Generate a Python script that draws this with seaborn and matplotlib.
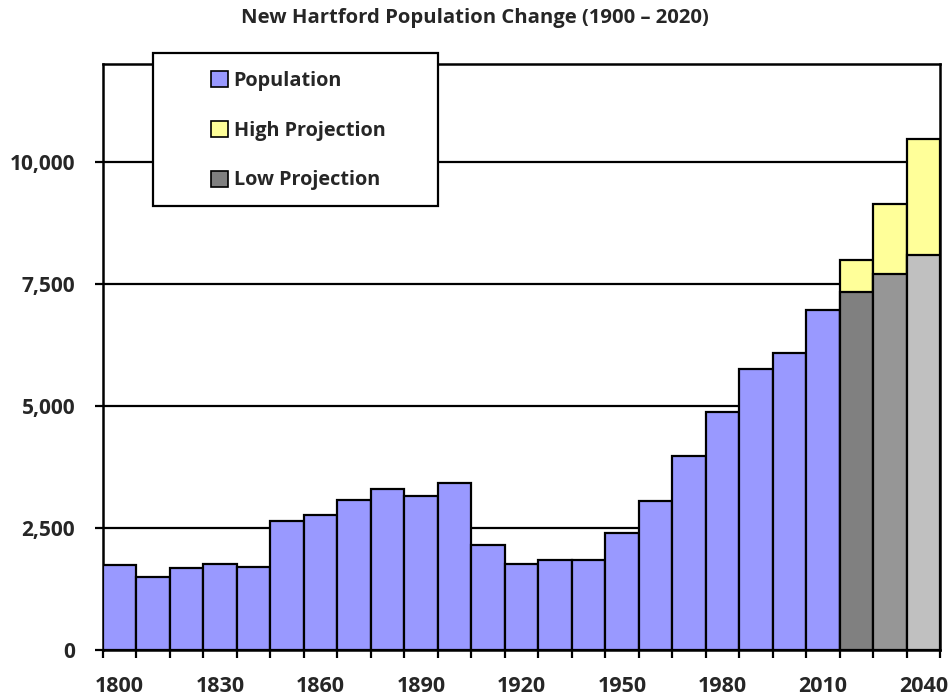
import matplotlib
matplotlib.use("Agg")
import matplotlib.pyplot as plt
import pandas as pd
import seaborn as sns
from matplotlib.patches import Patch, Rectangle
from matplotlib.ticker import FixedLocator, FuncFormatter

# ---- data ----
years = [str(y) for y in range(1800, 2050, 10)]
pop_years = years[:22]
population = [1745, 1500, 1685, 1760, 1705, 2640, 2755, 3080, 3295, 3155, 3420,
              2140, 1770, 1835, 1835, 2400, 3050, 3975, 4877, 5762, 6090, 6967]
proj_years = ["2020", "2030", "2040"]
high_projection = [7980, 9135, 10455]
low_projection = [7322, 7698, 8090]
tick_labels = ["1800", "1830", "1860", "1890", "1920", "1950", "1980", "2010", "2040"]
legend_labels = ["Population", "High Projection", "Low Projection"]

pop_color = "#9999FF"
high_color = "#FFFF99"
low_colors = ["#808080", "#969696", "#C0C0C0"]

sns.set_style("white")
plt.rcParams["font.family"] = ["Open Sans", "DejaVu Sans"]
plt.rcParams["font.weight"] = "bold"

df_pop = pd.DataFrame({"year": pop_years, "value": population})
df_proj = pd.DataFrame({"year": proj_years, "high": high_projection, "low": low_projection})

fig = plt.figure(figsize=(9.49, 7.0), dpi=100)
ax = fig.add_axes([103 / 949, 1 - 650 / 700, (940 - 103) / 949, (650 - 64) / 700])

lw = 1.6
sns.barplot(data=df_pop, x="year", y="value", order=years, color=pop_color,
            width=1.0, edgecolor="black", linewidth=lw, saturation=1, ax=ax, zorder=3)
sns.barplot(data=df_proj, x="year", y="high", order=years, color=high_color,
            width=1.0, edgecolor="black", linewidth=lw, saturation=1, ax=ax, zorder=3)
sns.barplot(data=df_proj, x="year", y="low", order=years, hue="year",
            palette=dict(zip(proj_years, low_colors)), legend=False,
            width=1.0, edgecolor="black", linewidth=lw, saturation=1, ax=ax, zorder=4)

ax.set_xlim(-0.5, len(years) - 0.5)
ax.set_ylim(0, 12000)
ax.set_xlabel("")
ax.set_ylabel("")

# y axis
ax.yaxis.set_major_locator(FixedLocator([0, 2500, 5000, 7500, 10000]))
ax.yaxis.set_major_formatter(FuncFormatter(lambda v, p: f"{int(v):,}"))
ax.yaxis.grid(True, color="black", linewidth=1.6)
ax.set_axisbelow(True)

# x axis: ticks at bar boundaries, labels at centers of every 3rd bar
ax.xaxis.set_major_locator(FixedLocator([i - 0.5 for i in range(len(years) + 1)]))
ax.xaxis.set_major_formatter(FuncFormatter(lambda v, p: ""))
label_pos = [years.index(t) for t in tick_labels]
ax.xaxis.set_minor_locator(FixedLocator(label_pos))
ax.xaxis.set_minor_formatter(FuncFormatter(lambda v, p: years[int(round(v))]))
ax.tick_params(axis="x", which="major", direction="out", length=6, width=1.6, color="black", bottom=True)
ax.tick_params(axis="x", which="minor", length=0, pad=19, labelsize=15.5, bottom=True)
ax.tick_params(axis="y", which="major", direction="out", length=6, width=1.6, color="black",
               pad=14, labelsize=15, left=True)
for lab in ax.get_xticklabels(minor=True) + ax.get_yticklabels():
    lab.set_fontweight("bold")

for s in ax.spines.values():
    s.set_visible(True)
    s.set_color("black")
    s.set_linewidth(1.8)

fig.suptitle("New Hartford Population Change (1900 \u2013 2020)", y=1 - 18 / 700,
             va="center", fontsize=14.6, fontweight="bold")

# legend box
rect = Rectangle((153 / 949, 1 - 206 / 700), (438 - 153) / 949, (206 - 53) / 700,
                 transform=fig.transFigure, facecolor="white", edgecolor="black",
                 linewidth=1.6, zorder=10)
fig.add_artist(rect)
handles = [Patch(facecolor=pop_color, edgecolor="black", linewidth=1.2),
           Patch(facecolor=high_color, edgecolor="black", linewidth=1.2),
           Patch(facecolor=low_colors[0], edgecolor="black", linewidth=1.2)]
leg = fig.legend(handles, legend_labels, loc="upper left",
                 bbox_to_anchor=(197 / 949, 1 - 57 / 700), frameon=False,
                 prop={"weight": "bold", "size": 14.3}, handlelength=0.85,
                 handleheight=0.85, handletextpad=0.3, labelspacing=1.5,
                 borderpad=0.2)
leg.set_zorder(11)

fig.savefig("out.png", dpi=100)
